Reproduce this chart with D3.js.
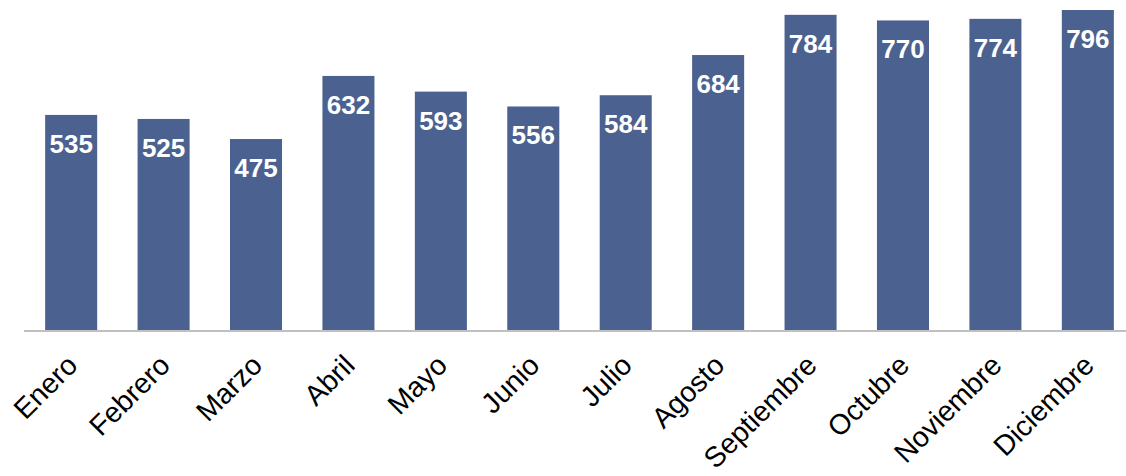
<!DOCTYPE html>
<html>
<head>
<meta charset="utf-8">
<script src="https://cdn.jsdelivr.net/npm/d3@7"></script>
<style>
  html, body { margin: 0; padding: 0; background: #fff; }
  svg { display: block; font-family: Arial, "Liberation Sans", sans-serif; }
</style>
</head>
<body>
<div id="chart"></div>
<script>
const months = ["Enero", "Febrero", "Marzo", "Abril", "Mayo", "Junio", "Julio",
  "Agosto", "Septiembre", "Octubre", "Noviembre", "Diciembre"];
const values = [535, 525, 475, 632, 593, 556, 584, 684, 784, 770, 774, 796];

const width = 1126;
const height = 476;
const baseline = 330;

const svg = d3.select("#chart")
  .append("svg")
  .attr("width", width)
  .attr("height", height);

const x = d3.scaleBand()
  .domain(months)
  .range([25, 1134])
  .paddingInner(0.437)
  .paddingOuter(0.218);

const y = d3.scaleLinear()
  .domain([0, 796])
  .range([baseline, 10]);

// barras
svg.append("g")
  .selectAll("rect")
  .data(values)
  .join("rect")
  .attr("x", (d, i) => x(months[i]))
  .attr("y", (d) => y(d))
  .attr("width", x.bandwidth())
  .attr("height", (d) => baseline - y(d))
  .attr("fill", "#4b6290");

// valores dentro de las barras
svg.append("g")
  .selectAll("text")
  .data(values)
  .join("text")
  .attr("x", (d, i) => x(months[i]) + x.bandwidth() / 2)
  .attr("y", (d) => y(d) + 38)
  .attr("text-anchor", "middle")
  .attr("fill", "#fff")
  .attr("font-weight", "bold")
  .attr("font-size", "26px")
  .text((d) => d);

// eje
svg.append("line")
  .attr("x1", 24)
  .attr("x2", width)
  .attr("y1", baseline + 1)
  .attr("y2", baseline + 1)
  .attr("stroke", "#c0c0c0")
  .attr("stroke-width", 2);

// etiquetas de meses
svg.append("g")
  .selectAll("text")
  .data(months)
  .join("text")
  .attr("transform", (d) => `translate(${x(d) + x.bandwidth() / 2 + 8},${baseline + 37}) rotate(-45)`)
  .attr("text-anchor", "end")
  .attr("fill", "#000")
  .attr("font-size", "28.5px")
  .text((d) => d);
</script>
</body>
</html>
